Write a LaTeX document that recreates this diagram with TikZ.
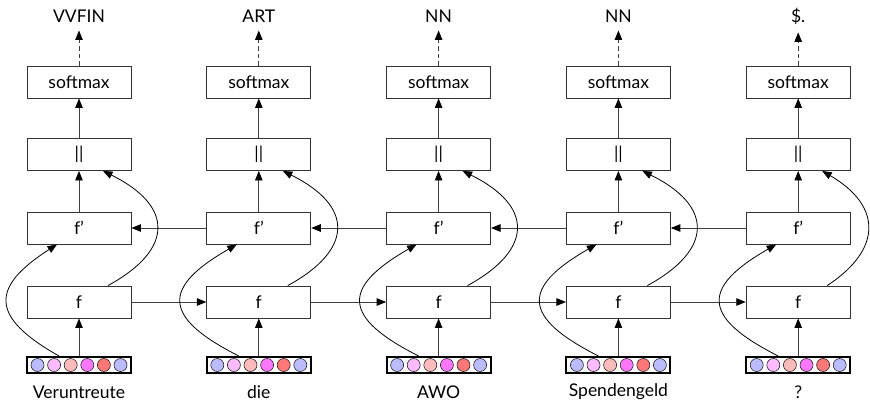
\documentclass[tikz,border=0pt]{standalone}
\usepackage{fontspec}
\setmainfont{Lato}
\usetikzlibrary{arrows.meta,calc}
\definecolor{cBlue}{HTML}{BBBBFF}
\definecolor{cPink}{HTML}{FFBBFF}
\definecolor{cSalmon}{HTML}{FFBBBB}
\definecolor{cMagenta}{HTML}{FF77FF}
\definecolor{cRed}{HTML}{FF7777}
\tikzset{
  unit/.style={draw=black!80, line width=0.9pt, minimum width=104pt, minimum height=32pt,
    inner sep=0pt, font=\fontsize{17.5}{20}\selectfont},
  embbox/.style={draw=black, line width=2pt, minimum width=104pt, minimum height=16pt, inner sep=0pt},
  dot/.style={circle, draw=black!85, line width=0.6pt, minimum size=13pt, inner sep=0pt},
  word/.style={font=\fontsize{17.5}{20}\selectfont, inner sep=0pt},
  conn/.style={draw=black!75, line width=0.9pt, -{Triangle[length=9.5pt,width=7.5pt,color=black]}},
  skip/.style={draw=black, line width=0.8pt, -{Triangle[length=9.5pt,width=7.5pt]}},
  predict/.style={conn, dash pattern=on 4.5pt off 3pt},
}
\begin{document}
\begin{tikzpicture}[x=1pt,y=-1pt]
\useasboundingbox (0,0) rectangle (870,402);
\foreach \i/\w/\t in {1/Veruntreute/VVFIN, 2/die/ART, 3/AWO/NN, 4/Spendengeld/NN, 5/?/\$.} {
  \pgfmathsetmacro{\cx}{79+179.8*(\i-1)}
  \node[unit] (sm\i) at (\cx,82) {softmax};
  \node[unit] (cc\i) at (\cx,154.5) {||};
  \node[unit] (fb\i) at (\cx,228) {f’};
  \node[unit] (ff\i) at (\cx,302) {f};
  \node[embbox] (e\i) at (\cx,365) {};
  \foreach \k/\c in {1/cBlue, 2/cPink, 3/cSalmon, 4/cMagenta, 5/cRed, 6/cBlue} {
    \node[dot, fill=\c] (e\i d\k) at ($(e\i.center)+({-41.5+16.6*(\k-1)},0)$) {};
  }
  \node[word] (w\i) at (\cx,392) {\w};
  \node[word] (t\i) at (\cx,16) {\t};
  \draw[conn] (e\i.north) -- (ff\i.south);
  \draw[conn] (fb\i.north) -- (cc\i.south);
  \draw[conn] (cc\i.north) -- (sm\i.south);
  \draw[predict] (sm\i.north) -- ([yshift=-8pt]t\i.south);
}
% forward and backward recurrences
\foreach \i [evaluate=\i as \j using int(\i+1)] in {1,...,4} {
  \draw[conn] (ff\i.east) -- (ff\j.west);
  \draw[conn] (fb\j.west) -- (fb\i.east);
}
% input skips into the backward cells
\draw[skip] ([xshift=-20pt]e1.north) .. controls +(-69,-39) and +(-67,43) .. ([xshift=-22pt]fb1.south);
\foreach \i in {2,...,5} {
  \draw[skip] ([xshift=-20pt]e\i.north) .. controls +(-77,-39) and +(-75,43) .. ([xshift=-22pt]fb\i.south);
}
% forward states into the concatenation
\foreach \i in {1,...,4} {
  \draw[skip] ([xshift=29pt]ff\i.north) .. controls +(66,-36) and +(71,35) .. ([xshift=24pt]cc\i.south);
}
\draw[skip] ([xshift=29pt]ff5.north) .. controls +(55,-36) and +(60,35) .. ([xshift=24pt]cc5.south);
\end{tikzpicture}
\end{document}
